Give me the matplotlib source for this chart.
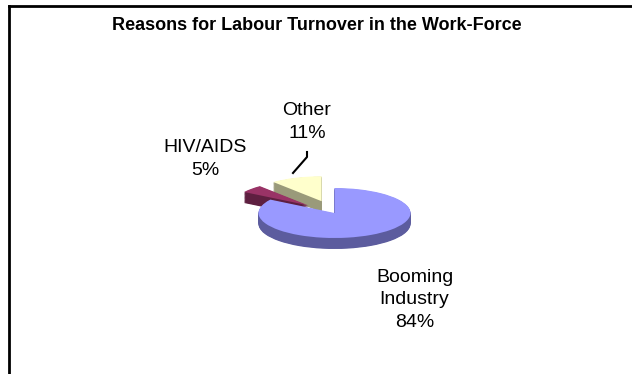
import numpy as np
import matplotlib.pyplot as plt
from matplotlib.lines import Line2D

plt.rcParams['font.family'] = ['Liberation Sans', 'DejaVu Sans']

# data
labels = ["Booming\nIndustry", "HIV/AIDS", "Other"]
shares = [84, 5, 11]
explode = [0.0, 0.46, 0.5]
top_colors = ["#9999FF", "#993366", "#FFFFCC"]
side_colors = ["#5C5C9E", "#5E1F40", "#9A9A7A"]

W, H = 632, 374
fig = plt.figure(figsize=(W / 100, H / 100), dpi=100)
ax = fig.add_axes([0, 0, 1, 1])

# pie geometry in pixels (center, radii, thickness)
cx, cy = 334.5, 213
rx, ry = 76, 25
depth = 11

# side of the 3d pie: stack of darker pies
for d in np.linspace(depth / ry, 0, 20)[:-1]:
    ax.pie(shares, explode=explode, colors=side_colors, startangle=90,
           counterclock=False, center=(0, -d), radius=1,
           wedgeprops=dict(linewidth=0))
# top face
ax.pie(shares, explode=explode, colors=top_colors, startangle=90,
       counterclock=False, center=(0, 0), radius=1,
       wedgeprops=dict(linewidth=0))

ax.set_aspect('auto')
ax.set_xlim(-cx / rx, (W - cx) / rx)
ax.set_ylim(-(H - cy) / ry, cy / ry)
ax.axis('off')

# data labels
pct = [f"{v}%" for v in shares]
label_pos = [(414.5, 300), (205, 159), (307, 122)]
for name, p, (x, y) in zip(labels, pct, label_pos):
    fig.text(x / W, 1 - y / H, f"{name}\n{p}", ha='center', va='center',
             fontsize=14, linespacing=1.45)

# leader line for "Other"
fig.add_artist(Line2D([307 / W, 307 / W, 293 / W],
                      [1 - 152 / H, 1 - 157 / H, 1 - 173 / H],
                      color='black', linewidth=1.5))

fig.text(316.5 / W, 1 - 26 / H, "Reasons for Labour Turnover in the Work-Force",
         ha='center', va='center', fontsize=13, fontweight='bold')

# chart area border (only left and top are visible)
fig.add_artist(Line2D([8.5 / W, 8.5 / W], [0, 1 - 6 / H], color='black', linewidth=2))
fig.add_artist(Line2D([8.5 / W, 1], [1 - 6 / H, 1 - 6 / H], color='black', linewidth=2))

fig.savefig("out.png", dpi=100)
